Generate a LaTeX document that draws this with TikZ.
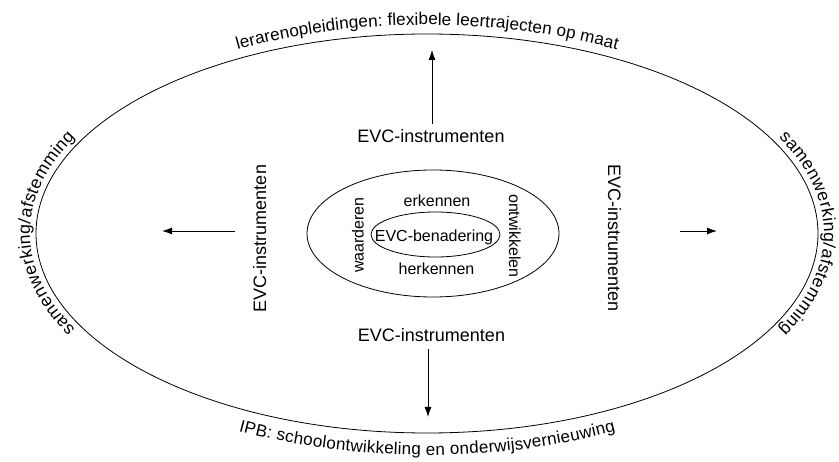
\documentclass[tikz,border=0pt]{standalone}
\usepackage{fontspec}
\setmainfont{Liberation Sans}
\usetikzlibrary{arrows.meta,decorations.text}
\begin{document}
\begin{tikzpicture}[x=1pt,y=1pt,
  big/.style={font=\fontsize{18}{21}\selectfont, inner sep=0pt},
  small/.style={font=\fontsize{16}{19}\selectfont, inner sep=0pt},
  arr/.style={-{Latex[length=10pt,width=7pt]}, line width=0.9pt},
  ring/.style={line width=0.8pt},
  alongtext/.style={decorate, decoration={text along path, text align=center, raise=#1}}
]
\useasboundingbox (0,0) rectangle (839,-462);
\coordinate (O) at (427,-233.5);
\draw[ring] (O) ellipse[x radius=391pt, y radius=199.5pt];
\draw[ring] (433,-233.5) ellipse[x radius=126pt, y radius=63.5pt];
\draw[ring] (435.5,-234.5) ellipse[x radius=64.5pt, y radius=22.5pt];

% start points of the curved labels
\path (O) ++(150:391pt and 199.5pt) coordinate (pT);
\path (O) ++(210:391pt and 199.5pt) coordinate (pB);
\path (O) ++(240:391pt and 199.5pt) coordinate (pL);
\path (O) ++(60:391pt and 199.5pt) coordinate (pR);

\path[alongtext=9pt, decoration={text={|\fontsize{17.1}{21}\selectfont|lerarenopleidingen: flexibele leertrajecten op maat}}]
  (pT) arc[start angle=150, end angle=30, x radius=391pt, y radius=199.5pt];
\path[alongtext=-22pt, decoration={text={|\fontsize{17}{21}\selectfont|IPB: schoolontwikkeling en onderwijsvernieuwing}}]
  (pB) arc[start angle=210, end angle=330, x radius=391pt, y radius=199.5pt];
\path[alongtext=6pt, decoration={text={|\fontsize{17.5}{21}\selectfont|samenwerking/afstemming}}]
  (pL) arc[start angle=240, end angle=120, x radius=391pt, y radius=199.5pt];
\path[alongtext=6pt, decoration={text={|\fontsize{17.5}{21}\selectfont|samenwerking/afstemming}}]
  (pR) arc[start angle=60, end angle=-60, x radius=391pt, y radius=199.5pt];

% EVC-instrumenten labels
\node[big, anchor=base] (evcN) at (431,-143) {EVC-instrumenten};
\node[big, anchor=base] (evcS) at (431.5,-342) {EVC-instrumenten};
\node[big, anchor=base, rotate=90] (evcW) at (266,-238.5) {EVC-instrumenten};
\node[big, anchor=base, rotate=-90] (evcE) at (608,-238) {EVC-instrumenten};

% inner labels
\node[small, anchor=base] (erk) at (437,-207) {erkennen};
\node[small, anchor=base] (herk) at (436.5,-275) {herkennen};
\node[small, anchor=base] (evcB) at (434,-241.5) {EVC-benadering};
\node[small, anchor=base, rotate=90] (waard) at (363.5,-235) {waarderen};
\node[small, anchor=base, rotate=-90] (ontw) at (509,-236) {ontwikkelen};

% arrow targets
\coordinate (tN) at (432,-50);
\coordinate (tS) at (428,-417);
\coordinate (tW) at (162,-231);
\coordinate (tE) at (717,-231);

\draw[arr, shorten <=6pt] (evcN.north -| tN) -- (tN);
\draw[arr, shorten <=7pt] (evcS.south -| tS) -- (tS);
\draw[arr, shorten <=18pt] (evcW.north |- tW) -- (tW);
\draw[arr, shorten <=59pt] (evcE.north |- tE) -- (tE);
\end{tikzpicture}
\end{document}
